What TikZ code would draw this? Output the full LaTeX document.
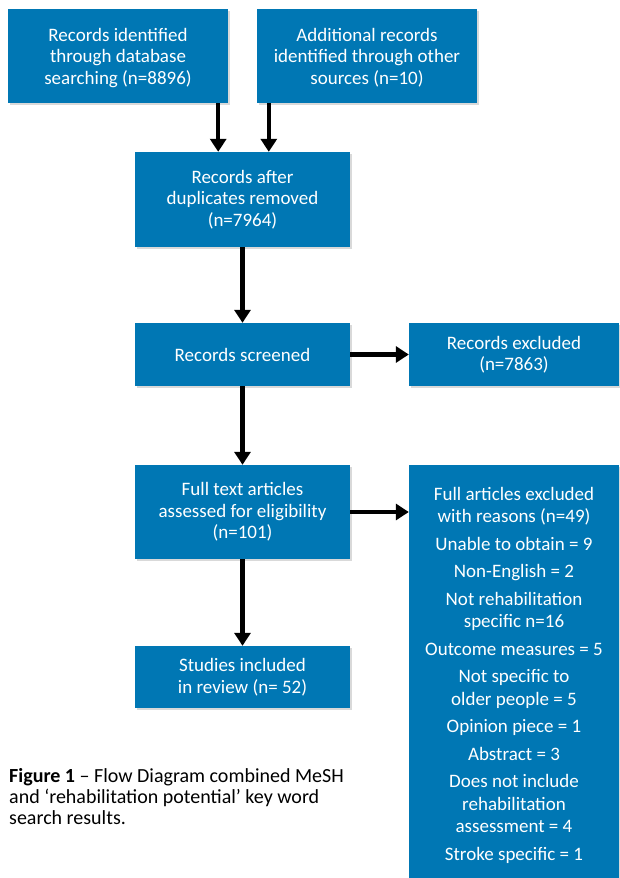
\documentclass[tikz,border=0pt]{standalone}
\usepackage{fontspec}
\setmainfont{Carlito}
\usetikzlibrary{arrows.meta,shadows}
\definecolor{boxblue}{RGB}{0,119,180}
\begin{document}
\begin{tikzpicture}[x=1pt,y=-1pt,
  box/.style={fill=boxblue, text=white, align=center, inner sep=0pt,
    font=\fontsize{19}{21.5}\selectfont,
    drop shadow={opacity=0.25, shadow xshift=2pt, shadow yshift=-2pt, fill=black!60}},
  listtext/.style={text=white, align=center, inner sep=0pt,
    font=\fontsize{19}{22.5}\selectfont},
  arr/.style={line width=4.5pt, -{Triangle[length=13pt,width=16pt]}}]
\useasboundingbox (0,0) rectangle (619,878);

\node[box, minimum width=220pt, minimum height=94pt, text depth=-3pt] (A) at (118,56)
  {Records identified\\through database\\searching (n=8896)};
\node[box, minimum width=220pt, minimum height=94pt, text depth=-3pt] (B) at (367,56)
  {Additional records\\identified through other\\sources (n=10)};
\node[box, minimum width=215pt, minimum height=95pt] (C) at (242.5,199.5)
  {Records after\\duplicates removed\\(n=7964)};
\node[box, minimum width=215pt, minimum height=63pt] (D) at (242.5,354.5)
  {Records screened};
\node[box, minimum width=210pt, minimum height=63pt] (E) at (514,354.5)
  {Records excluded\\(n=7863)};
\node[box, minimum width=215pt, minimum height=94pt] (F) at (242.5,512)
  {Full text articles\\assessed for eligibility\\(n=101)};
\node[box, minimum width=210pt, minimum height=413pt] (G) at (514,671.5) {};
\node[listtext, anchor=north] (Glist) at (514,487)
  {Full articles excluded\\with reasons (n=49)\\[5pt]
   Unable to obtain = 9\\[5pt]
   Non-English = 2\\[5pt]
   Not rehabilitation\\specific n=16\\[5pt]
   Outcome measures = 5\\[5pt]
   Not specific to\\older people = 5\\[5pt]
   Opinion piece = 1\\[5pt]
   Abstract = 3\\[5pt]
   Does not include\\rehabilitation\\assessment = 4\\[5pt]
   Stroke specific = 1};
\node[box, minimum width=215pt, minimum height=62pt] (H) at (242.5,677)
  {Studies included\\in review (n= 52)};

\node[anchor=north west, align=left, inner sep=0pt,
  font=\fontsize{20}{21}\selectfont] (cap) at (9,768.5)
  {\textbf{Figure 1} – Flow Diagram combined MeSH\\and ‘rehabilitation potential’ key word\\search results.};

\draw[arr] ([xshift=-10pt]A.south east) -- ([xshift=-10pt]A.south east |- C.north);
\draw[arr] ([xshift=12pt]B.south west) -- ([xshift=12pt]B.south west |- C.north);
\draw[arr] (C.south) -- (D.north);
\draw[arr] (D.east) -- (E.west);
\draw[arr] (D.south) -- (F.north);
\draw[arr] (F.east) -- (F.east -| G.west);
\draw[arr] (F.south) -- (H.north);
\end{tikzpicture}
\end{document}
